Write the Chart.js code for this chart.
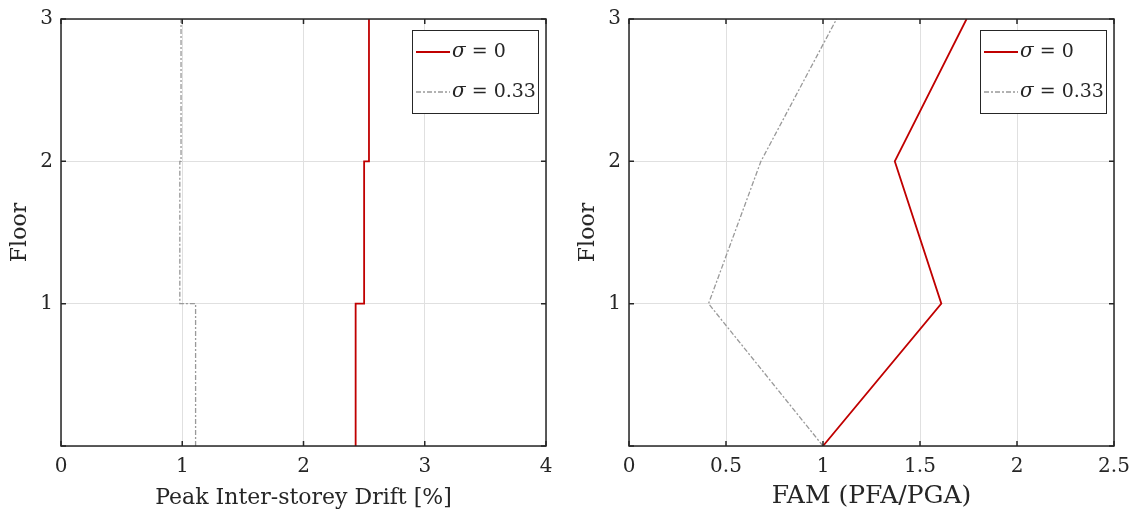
<!DOCTYPE html>
<html>
<head>
<meta charset="utf-8">
<script src="https://cdn.jsdelivr.net/npm/chart.js@4.4.1/dist/chart.umd.min.js"></script>
<style>
  html,body{margin:0;padding:0;background:#fff;}
  #wrap{position:relative;width:1137px;height:518px;}
  .panel{position:absolute;top:0;height:518px;}
  #p1{left:0;width:568px;}
  #p2{left:568px;width:569px;}
</style>
</head>
<body>
<div id="wrap">
  <div class="panel" id="p1"><canvas id="driftChart"></canvas></div>
  <div class="panel" id="p2"><canvas id="famChart"></canvas></div>
</div>
<script>
// --- Data ---
const floors = [0, 1, 2, 3];
const driftSigma0 = [2.43, 2.50, 2.54];      // storey 1..3
const driftSigma033 = [1.11, 0.98, 0.99];
const famSigma0 = [1.00, 1.61, 1.37, 1.74];  // floor 0..3
const famSigma033 = [1.00, 0.41, 0.68, 1.07];
const legendLabels = ["0", "0.33"];

const RED = "#c00000";
const GREY = "#999999";
const INK = "#262626";
const FONT = "'DejaVu Serif', serif";

// stairs: each storey value drawn as a vertical segment between floors
function stairs(vals){
  const pts = [];
  vals.forEach((v,i)=>{ pts.push({x:v, y:floors[i]}); pts.push({x:v, y:floors[i+1]}); });
  return pts;
}
function profile(vals){
  return vals.map((v,i)=>({x:v, y:floors[i]}));
}

// --- frame, inward ticks, legend box ---
const framePlugin = {
  id:"frame",
  afterDraw(chart){
    const {ctx, chartArea:{left,right,top,bottom}, scales:{x,y}} = chart;
    ctx.save();
    ctx.strokeStyle = INK;
    ctx.lineWidth = 1.5;
    ctx.beginPath();
    x.ticks.forEach(t=>{
      const px = x.getPixelForValue(t.value);
      ctx.moveTo(px,bottom); ctx.lineTo(px,bottom-5);
      ctx.moveTo(px,top); ctx.lineTo(px,top+5);
    });
    y.ticks.forEach(t=>{
      const py = y.getPixelForValue(t.value);
      ctx.moveTo(left,py); ctx.lineTo(left+5,py);
      ctx.moveTo(right,py); ctx.lineTo(right-5,py);
    });
    ctx.stroke();
    ctx.strokeRect(left,top,right-left,bottom-top);

    // legend
    const bx = right-134, by = top+11, bw = 126, bh = 83;
    ctx.fillStyle = "#fff";
    ctx.fillRect(bx,by,bw,bh);
    ctx.lineWidth = 1;
    ctx.strokeStyle = INK;
    ctx.strokeRect(bx+0.5,by+0.5,bw,bh);
    chart.data.datasets.forEach((ds,i)=>{
      const ly = by + 22 + i*40;
      ctx.strokeStyle = ds.borderColor;
      ctx.lineWidth = ds.borderWidth;
      ctx.setLineDash(ds.borderDash || []);
      ctx.beginPath(); ctx.moveTo(bx+4,ly); ctx.lineTo(bx+38,ly); ctx.stroke();
      ctx.setLineDash([]);
      ctx.fillStyle = INK;
      ctx.textBaseline = "middle";
      ctx.font = "italic 20px " + FONT;
      ctx.fillText("σ", bx+40, ly);
      const w = ctx.measureText("σ").width;
      ctx.font = "19px " + FONT;
      ctx.fillText(" = " + legendLabels[i], bx+40+w, ly);
    });
    ctx.restore();
  }
};

function makeOptions(xMax, xStep, xTitle, titleSize, padRight){
  return {
    responsive:true,
    maintainAspectRatio:false,
    animation:false,
    layout:{padding:{top:19, right:padRight, bottom:0, left:0}},
    plugins:{legend:{display:false}, tooltip:{enabled:false}},
    elements:{point:{radius:0}, line:{tension:0}},
    scales:{
      x:{
        type:"linear", min:0, max:xMax,
        border:{display:false},
        grid:{color:"#e0e0e0", lineWidth:1, drawTicks:false},
        ticks:{stepSize:xStep, color:INK, padding:9, font:{family:FONT, size:20},
               callback:v=>String(v)},
        title:{display:true, text:xTitle, color:INK, padding:{top:7,bottom:7}, font:{family:FONT, size:titleSize}},
        afterFit(s){ s.height = 72; s.paddingLeft = 0; s.paddingRight = 0; }
      },
      y:{
        type:"linear", min:0, max:3,
        border:{display:false},
        grid:{color:"#e0e0e0", lineWidth:1, drawTicks:false},
        ticks:{stepSize:1, color:INK, padding:8, font:{family:FONT, size:20},
               callback:v=> v===0 ? "" : String(v)},
        title:{display:true, text:"Floor", color:INK, padding:{top:7,bottom:7}, font:{family:FONT, size:22}},
        afterFit(s){ s.width = 61; s.paddingTop = 0; s.paddingBottom = 0; }
      }
    }
  };
}

new Chart(document.getElementById("driftChart"),{
  type:"line",
  data:{datasets:[
    {data:stairs(driftSigma0), borderColor:RED, borderWidth:1.8},
    {data:stairs(driftSigma033), borderColor:GREY, borderWidth:1.3, borderDash:[5,2,2,2]}
  ]},
  options:makeOptions(4, 1, "Peak Inter-storey Drift [%]", 22, 22),
  plugins:[framePlugin]
});

new Chart(document.getElementById("famChart"),{
  type:"line",
  data:{datasets:[
    {data:profile(famSigma0), borderColor:RED, borderWidth:1.8},
    {data:profile(famSigma033), borderColor:GREY, borderWidth:1.3, borderDash:[5,2,2,2]}
  ]},
  options:makeOptions(2.5, 0.5, "FAM (PFA/PGA)", 25, 23),
  plugins:[framePlugin]
});
</script>
</body>
</html>
